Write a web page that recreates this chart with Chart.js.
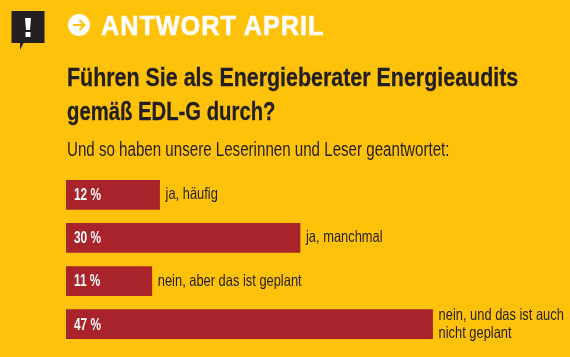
<!DOCTYPE html>
<html lang="de">
<head>
<meta charset="utf-8">
<title>Antwort April</title>
<script src="https://cdn.jsdelivr.net/npm/chart.js@4"></script>
<style>
    html, body { margin: 0; padding: 0; background: #ffc20a; }
    #wrap { position: relative; width: 570px; height: 357px; overflow: hidden; background: #ffc20a; }
    #chart { position: absolute; left: 0; top: 0; }
    .txt { position: absolute; white-space: nowrap; font-family: "Liberation Sans", sans-serif; transform-origin: 0 0; color: #231f20; }
    #kicker { left: 101px; top: 9px; font-size: 28px; line-height: 34px; font-weight: bold; color: #fff; letter-spacing: 1px; transform: scaleX(0.905); -webkit-text-stroke: 0.5px #fff; }
    #frage1, #frage2 { left: 67px; font-size: 26px; line-height: 33px; font-weight: bold; -webkit-text-stroke: 0.3px #231f20; }
    #frage1 { top: 61px; transform: scaleX(0.824); }
    #frage2 { top: 95px; transform: scaleX(0.78); }
    #sub { left: 67px; top: 137px; font-size: 20px; line-height: 24px; transform: scaleX(0.756); }
    svg { position: absolute; left: 0; top: 0; }
</style>
</head>
<body>
<div id="wrap">
    <canvas id="chart" width="570" height="357"></canvas>
    <svg width="100" height="60">
        <path d="M11.5 11h33v32h-21l-3.5 7v-7h-8.500z" fill="#231f20"/>
        <path d="M25 18h6l-1 12h-4z M25.500 32h5v5h-5z" fill="#fff"/>
        <circle cx="79" cy="25" r="11" fill="#fff"/>
        <path d="M73 25h11 M79.500 20l5 5l-5 5" fill="none" stroke="#ffc20a" stroke-width="2"/>
    </svg>
    <div class="txt" id="kicker">ANTWORT APRIL</div>
    <div class="txt" id="frage1">Führen Sie als Energieberater Energieaudits</div>
    <div class="txt" id="frage2">gemäß EDL-G durch?</div>
    <div class="txt" id="sub">Und so haben unsere Leserinnen und Leser geantwortet:</div>
</div>
<script>
const categories = ['ja, häufig', 'ja, manchmal', 'nein, aber das ist geplant', ['nein, und das ist auch', 'nicht geplant']];
const values = [12, 30, 11, 47];

const FONT = '"Liberation Sans", sans-serif';

// schmal gesetzter Text, die Schrift gibt es nicht als Condensed
function narrowText(ctx, text, x, y, squeeze) {
    ctx.save();
    ctx.translate(x, y);
    ctx.scale(squeeze, 1);
    ctx.fillText(text, 0, 0);
    ctx.restore();
}

// Prozentwerte in den Balken, Antworten rechts daneben
const barLabels = {
    id: 'barLabels',
    afterDatasetsDraw(chart) {
        const ctx = chart.ctx;
        const bars = chart.getDatasetMeta(0).data;
        ctx.save();
        ctx.textBaseline = 'middle';
        bars.forEach((bar, i) => {
            ctx.fillStyle = '#fff';
            ctx.font = 'bold 16px ' + FONT;
            narrowText(ctx, values[i] + ' %', bar.base + 8, bar.y + 1, 0.74);

            ctx.fillStyle = '#231f20';
            ctx.font = '16.5px ' + FONT;
            const lines = [].concat(categories[i]);
            lines.forEach((line, n) => {
                const y = bar.y + (n - (lines.length - 1) / 2) * 18;
                narrowText(ctx, line, bar.x + 6, y, 0.78);
            });
        });
        ctx.restore();
    }
};

new Chart(document.getElementById('chart').getContext('2d'), {
    type: 'bar',
    data: {
        labels: categories,
        datasets: [{
            data: values,
            backgroundColor: '#a9232b',
            barThickness: 29
        }]
    },
    options: {
        indexAxis: 'y',
        responsive: false,
        animation: false,
        layout: { padding: { left: 66, right: 4.8, top: 173.3, bottom: 11.3 } },
        plugins: {
            legend: { display: false },
            tooltip: { enabled: false }
        },
        scales: {
            x: { display: false, min: 0, max: 64 },
            y: { display: false }
        }
    },
    plugins: [barLabels]
});
</script>
</body>
</html>
